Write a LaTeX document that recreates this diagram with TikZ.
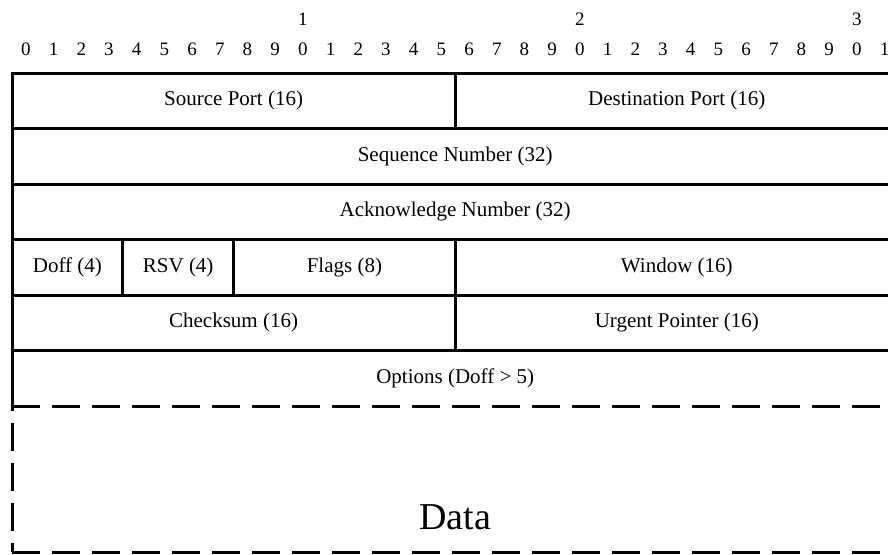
\documentclass[tikz,border=0pt]{standalone}
\usepackage{fontspec}
\setmainfont{Liberation Serif}
\usepackage{tikz}

\newcommand{\bitw}{27.7}
\newcommand{\rowh}{55.5}
% one header field: name, first bit, width in bits, row, text
\newcommand{\field}[5]{%
  \node[field, minimum width={#3*\bitw pt}] (#1)
    at ({12+\bitw*#2},{73+\rowh*#4}) {#5};}

\begin{document}
\begin{tikzpicture}[
x=1pt,
y=-1pt,
field/.style={
  draw,
  line width=3pt,
  outer sep=0pt,
  inner sep=0pt,
  minimum height=\rowh pt,
  anchor=north west,
  font=\fontsize{21}{25}\selectfont
  },
area/.style={
  draw=none,
  outer sep=0pt,
  inner sep=0pt,
  minimum width={32*\bitw pt},
  anchor=north west,
  font=\fontsize{21}{25}\selectfont
  },
bitnum/.style={
  anchor=base,
  font=\fontsize{19}{23}\selectfont
  },
solidline/.style={
  line width=3pt
  },
dashline/.style={
  line width=3pt,
  dash pattern=on 28pt off 12pt
  }
]
\useasboundingbox (0,0) rectangle (888,554);
% bit numbers
\foreach \b [evaluate=\b as \d using {int(mod(\b,10))}] in {0,...,31}
  \node[bitnum] (bit\b) at ({12+\bitw*(\b+0.5)},55) {\d};
\foreach \t in {1,2,3}
  \node[bitnum] (ten\t) at ({12+\bitw*(10*\t+0.5)},25) {\t};
% header fields
\field{srcport}{0}{16}{0}{Source Port (16)}
\field{dstport}{16}{16}{0}{Destination Port (16)}
\field{seqnum}{0}{32}{1}{Sequence Number (32)}
\field{acknum}{0}{32}{2}{Acknowledge Number (32)}
\field{doff}{0}{4}{3}{Doff (4)}
\field{rsv}{4}{4}{3}{RSV (4)}
\field{flags}{8}{8}{3}{Flags (8)}
\field{window}{16}{16}{3}{Window (16)}
\field{checksum}{0}{16}{4}{Checksum (16)}
\field{urgent}{16}{16}{4}{Urgent Pointer (16)}
% options and data
\node[area, minimum height=\rowh pt] (options) at (12,{73+\rowh*5}) {Options (Doff > 5)};
\node[area, minimum height=146pt] (dataarea) at (options.south west) {};
\node[anchor=base, yshift=23pt, font=\fontsize{38}{44}\selectfont] (data) at (dataarea.south) {Data};
\draw[solidline] (options.north west) -- (options.south west);
\draw[solidline] (options.north east) -- (options.south east);
\draw[dashline] (options.south west) -- (options.south east);
\draw[dashline, dash phase=19pt] (dataarea.south west) -- (dataarea.north west);
\draw[dashline, dash phase=19pt] (dataarea.south east) -- (dataarea.north east);
\draw[dashline] (dataarea.south west) -- (dataarea.south east);
\end{tikzpicture}
\end{document}
